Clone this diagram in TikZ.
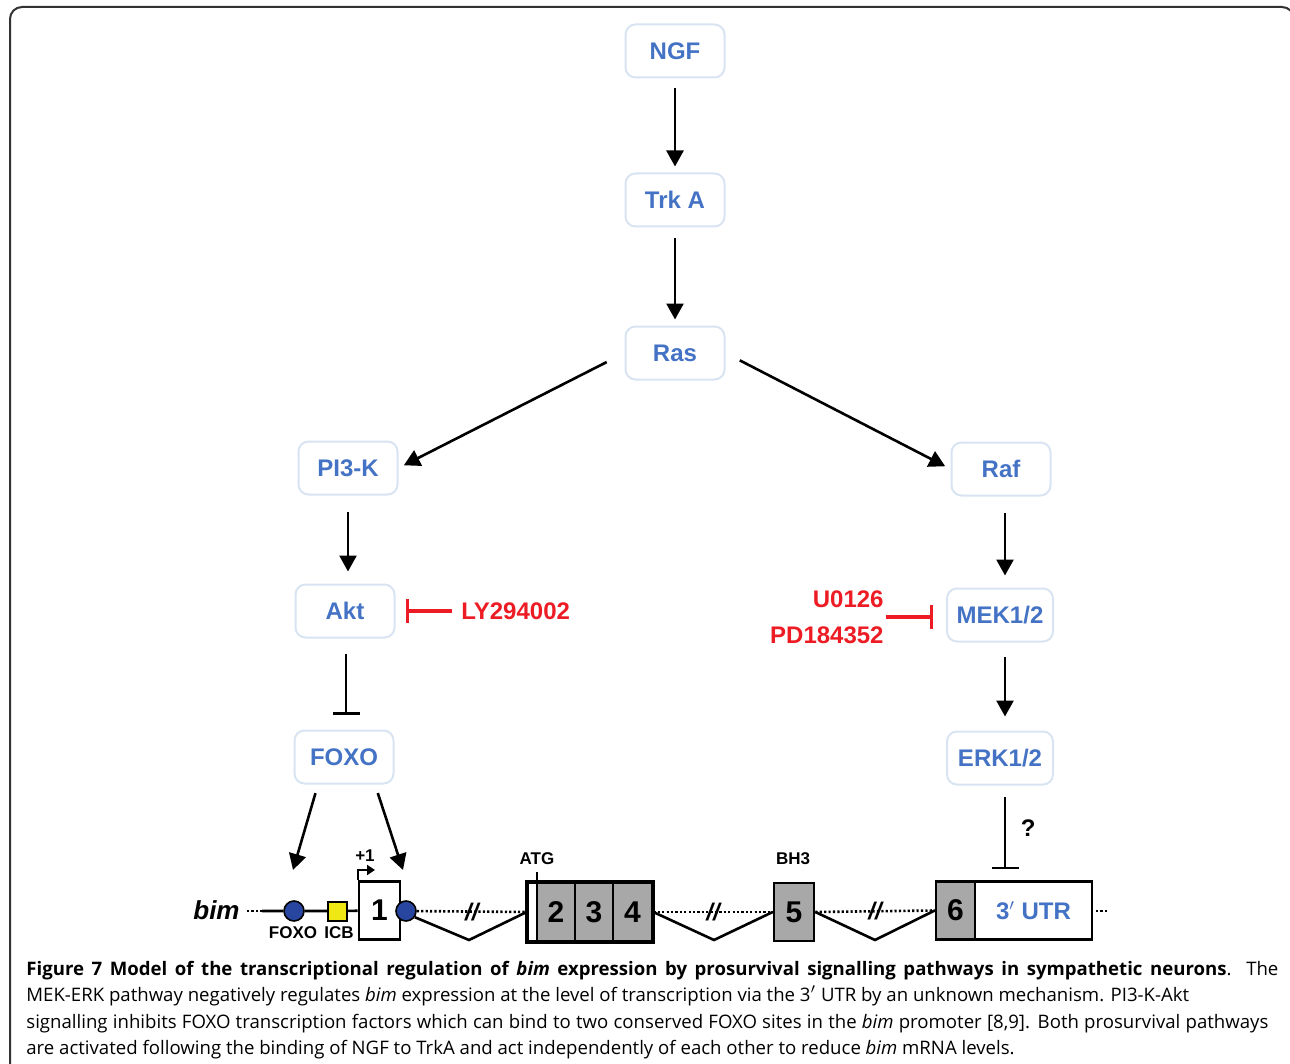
\documentclass[tikz,border=0pt]{standalone}
\usepackage{fontspec}
\setmainfont{Liberation Sans}
\newfontfamily\capfont{Open Sans}
\usetikzlibrary{arrows.meta,positioning}

\definecolor{txtblue}{RGB}{68,114,196}
\definecolor{boxline}{RGB}{216,228,242}
\definecolor{inhred}{RGB}{237,28,36}
\definecolor{siteblue}{RGB}{40,70,160}
\definecolor{icbyellow}{RGB}{240,232,20}
\definecolor{exgray}{RGB}{168,168,168}
\definecolor{framegray}{RGB}{50,50,50}

\begin{document}
\begin{tikzpicture}[x=0.5pt,y=-0.5pt,
  sig/.style={draw=boxline, line width=1pt, rounded corners=5pt, text=txtblue,
    font=\bfseries\fontsize{12}{14}\selectfont, minimum width=49.5pt, minimum height=26.5pt},
  act/.style={line width=1.3pt, -{Triangle[length=8pt,width=8.5pt]}},
  inh/.style={line width=1.3pt, -{Bar[width=13.5pt]}},
  drug/.style={text=inhred, font=\bfseries\fontsize{12}{18}\selectfont, inner sep=1pt},
  block/.style={line width=1.6pt, draw=inhred, -{Bar[width=12pt]}},
  exon/.style={draw, line width=1.3pt, inner sep=0pt, minimum height=29pt,
    font=\bfseries\fontsize{15}{15}\selectfont},
  site/.style={circle, draw, line width=0.8pt, fill=siteblue, inner sep=0pt, minimum size=10pt},
  intron/.style={line width=1.3pt, dash pattern=on 1.1pt off 1.1pt},
  splice/.style={line width=1.3pt},
  small/.style={font=\bfseries\fontsize{8.5}{9}\selectfont, inner sep=0pt},
  brk/.style={font=\bfseries\itshape\fontsize{12}{12}\selectfont, inner sep=0pt},
  capline/.style={anchor=base west, inner sep=0pt, font=\capfont\fontsize{9.3}{10}\selectfont}
]
\useasboundingbox (0,0) rectangle (1290,1064);
% frame
\draw[framegray, line width=1pt, rounded corners=6pt] (10,7) rectangle (1294,1110);

% signalling nodes
\node[sig] (NGF) at (675,51) {NGF};
\node[sig] (TrkA) at (675,200) {Trk A};
\node[sig] (Ras) at (675,353) {Ras};
\node[sig] (PI3K) at (348,468) {PI3-K};
\node[sig] (Raf) at (1001,469) {Raf};
\node[sig] (Akt) at (345,611) {Akt};
\node[sig, minimum width=53pt] (MEK) at (1000,615) {MEK1/2};
\node[sig] (FOXO) at (344,757) {FOXO};
\node[sig, minimum width=53pt] (ERK) at (1000,758) {ERK1/2};

% inhibitors
\node[drug, anchor=west] (ly) at (459,611) {LY294002};
\node[drug, anchor=east, align=right] (mekinh) at (886,617) {U0126\\PD184352};

% gene
\node[font=\bfseries\itshape\fontsize{13}{13}\selectfont, anchor=east, inner sep=0pt] (bim) at (240,910) {bim};
\coordinate (g0) at (247,911);
\coordinate (g1) at (262,911);
\node[site] (c1) at (294,911) {};
\node[draw, line width=1pt, fill=icbyellow, minimum size=9.5pt, inner sep=0pt] (icb) at (337.5,911) {};
\node[exon, fill=white, minimum width=20.5pt] (ex1) at (379.5,910.5) {1};
\node[site] (c2) at (406,911) {};
\node[exon, fill=white, minimum width=62pt] (exA) at (590,912) {};
\node[exon, fill=exgray, minimum width=19pt] (ex2) at (556,912) {2};
\node[exon, fill=exgray, minimum width=19pt] (ex3) at (594,912) {3};
\node[exon, fill=exgray, minimum width=19.5pt] (ex4) at (632.5,912) {4};
\draw[line width=1.3pt] (exA.south west) rectangle (exA.north east);
\node[exon, fill=exgray, minimum width=20pt] (ex5) at (794,912) {5};
\node[exon, fill=exgray, minimum width=19.5pt] (ex6) at (955.5,910.5) {6};
\node[exon, fill=white, minimum width=58.5pt, text=txtblue, font=\bfseries\fontsize{12}{12}\selectfont] (utr) at (1033.5,910.5) {3$'$ UTR};
\coordinate (g2) at (1096,911);
\coordinate (g3) at (1107,911);
\coordinate (v1) at (469,940);
\coordinate (v2) at (714,940);
\coordinate (v3) at (875,940);

\node[small] (foxolbl) at (293,933) {FOXO};
\node[small] (icblbl) at (339,933) {ICB};
\node[small] (tsslbl) at (365,856) {+1};
\node[small] (atglbl) at (537,859) {ATG};
\node[small] (bh3lbl) at (793,859) {BH3};
\coordinate (tss) at (375,870);
\coordinate (atg) at (537,872);
\coordinate (f1) at (293,870);
\coordinate (f2) at (403,870);

% pathway arrows
\draw[act, shorten <=5pt, shorten >=3pt] (NGF) -- (TrkA);
\draw[act, shorten <=5.5pt, shorten >=3pt] (TrkA) -- (Ras);
\draw[act, shorten <=10pt, shorten >=3pt] (Ras.west) -- (PI3K.east);
\draw[act, shorten <=8pt, shorten >=3pt] (Ras.east) -- (Raf.west);
\draw[act, shorten <=8pt, shorten >=6pt] (PI3K.south) -- (PI3K.south |- Akt.north);
\draw[act, shorten <=8pt, shorten >=6pt] ([xshift=2pt]Raf.south) -- ([xshift=2pt]Raf.south |- MEK.north);
\draw[act, shorten <=7pt, shorten >=7pt] ([xshift=2.5pt]MEK.south) -- ([xshift=2.5pt]MEK.south |- ERK.north);
\draw[inh, shorten <=7.5pt, shorten >=7.5pt] ([xshift=0.5pt]Akt.south) -- ([xshift=0.5pt]Akt.south |- FOXO.north);
\draw[inh, shorten <=5.5pt, shorten >=5.5pt] ([xshift=2.5pt]ERK.south) -- ([xshift=2.5pt]ERK.south |- utr.north)
  node[pos=0.45, right=4pt, font=\bfseries\fontsize{12}{12}\selectfont] (q) {?};
\draw[act, shorten <=4.5pt] ([xshift=-13pt]FOXO.south) -- (f1);
\draw[act, shorten <=4.5pt] ([xshift=15.5pt]FOXO.south) -- (f2);

% drug blocks
\draw[block, shorten <=3.5pt, shorten >=5pt] (ly.west) -- (Akt.east);
\draw[block, shorten >=6.5pt] (mekinh.east) -- (mekinh.east -| MEK.west);

% gene line
\draw[intron] (g0) -- (g1);
\draw[splice] (g1) -- (c1) (c1) -- (icb) (icb) -- (ex1);
\draw[intron] (c2) -- node[brk] {//} (exA.west);
\draw[intron] (exA.east) -- node[brk] {//} (ex5.west);
\draw[intron] (ex5.east) -- node[brk] {//} (ex6.west);
\draw[intron] (g2) -- (g3);
\draw[splice] (c2.-35) -- (v1) -- (exA.west);
\draw[splice] (exA.east) -- (v2) -- (ex5.west);
\draw[splice] (ex5.east) -- (v3) -- (ex6.west);
\draw[line width=1pt, -{Triangle[length=4pt,width=5pt]}] (ex1.north west) |- (tss);
\draw[line width=1pt] (atg) -- (atg |- exA.north);

% caption
\node[capline] (cap1) at (26,975)
  {\makebox[626pt][s]{\textbf{Figure 7 Model of the transcriptional regulation of \textit{bim} expression by prosurvival signalling pathways in sympathetic neurons}. The}};
\node[capline] (cap2) at (26,1001)
  {MEK-ERK pathway negatively regulates \textit{bim} expression at the level of transcription via the 3$'$ UTR by an unknown mechanism. PI3-K-Akt};
\node[capline] (cap3) at (26,1028)
  {\makebox[621pt][s]{signalling inhibits FOXO transcription factors which can bind to two conserved FOXO sites in the \textit{bim} promoter [8,9]. Both prosurvival pathways}};
\node[capline] (cap4) at (26,1054)
  {are activated following the binding of NGF to TrkA and act independently of each other to reduce \textit{bim} mRNA levels.};
\end{tikzpicture}
\end{document}
